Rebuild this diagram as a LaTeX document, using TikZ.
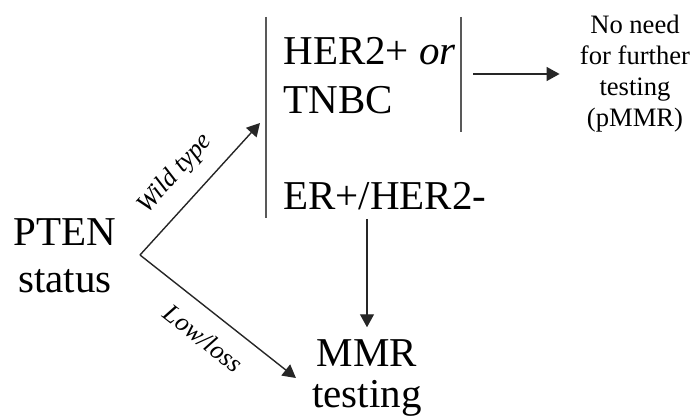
\documentclass[tikz,border=0pt]{standalone}
\usepackage{fontspec}
\setmainfont{Liberation Serif}
\usetikzlibrary{arrows.meta}
\tikzstyle{big}=[inner sep=0pt, font=\fontsize{20.5}{24.5}\selectfont, align=center]
\tikzstyle{small}=[inner sep=0pt, font=\fontsize{13.3}{15.5}\selectfont, align=center]
\tikzstyle{lbl}=[inner sep=2pt, font=\fontsize{13}{14}\selectfont\itshape]
\tikzstyle{bar}=[draw=black!65, line width=0.9pt]
\tikzstyle{arr}=[draw=black!85, line width=0.7pt, -{Triangle[length=6.5pt,width=7pt]}]

\begin{document}
\begin{tikzpicture}[x=0.5pt,y=-0.5pt]
\useasboundingbox (0,0) rectangle (692,417);
\node [big, font=\fontsize{20.5}{23.5}\selectfont] (pten) at (65,256) {PTEN\\status};
\node [big, align=left, anchor=west] (her) at (283,76) {HER2+ \textit{or}\\TNBC};
\node [big, anchor=base west] (er) at (283,210) {ER+/HER2-};
\node [big, font=\fontsize{20.5}{20.5}\selectfont] (mmr) at (367,378) {MMR\\testing};
\node [small] (noneed) at (635,74) {No need\\for further\\testing\\(pMMR)};
\coordinate (fork) at (140,255);
\coordinate (ltop) at (266,17);
\coordinate (lbot) at (266,218);
\coordinate (rtop) at (461,17);
\coordinate (rbot) at (461,132);
\coordinate (rbmid) at (461,74);
\coordinate (wt) at (260,123);
\draw [bar] (ltop) -- (lbot);
\draw [bar] (rtop) -- (rbot);
\draw [arr] (fork) -- node [lbl, above=6pt, sloped, pos=0.47] {Wild type} (wt);
\draw [arr] (fork) -- node [lbl, below=6pt, sloped, pos=0.51] {Low/loss} ([xshift=-8pt]mmr.west);
\draw [arr] ([yshift=-4pt]er.south -| mmr.north) -- ([yshift=6pt]mmr.north);
\draw [arr] ([xshift=6pt]rbmid) -- ([xshift=-10pt]noneed.west);
\end{tikzpicture}
\end{document}
